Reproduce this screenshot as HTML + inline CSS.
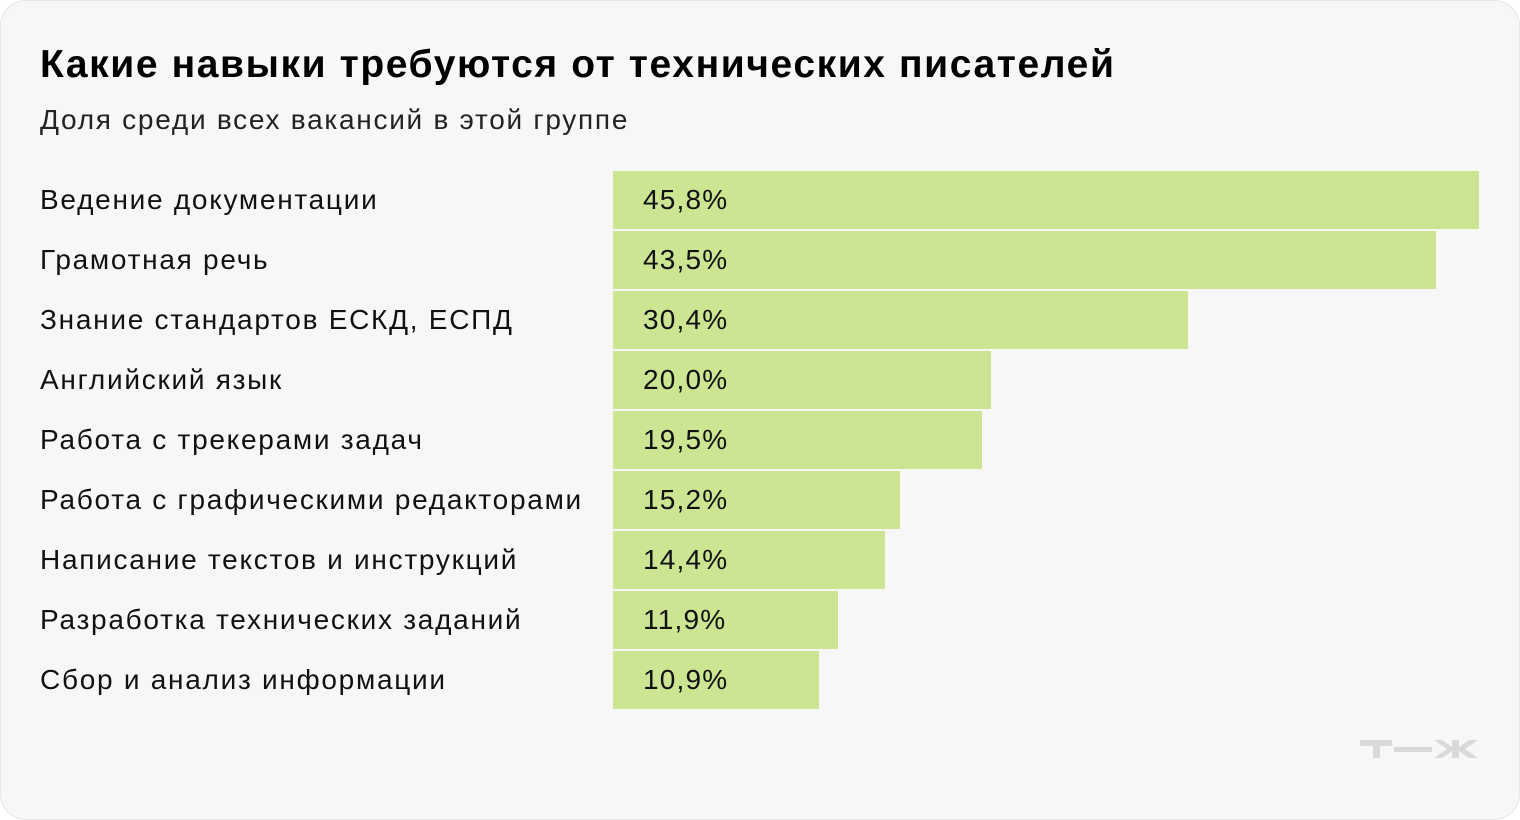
<!DOCTYPE html>
<html><head><meta charset="utf-8"><style>
body{margin:0;width:1520px;height:820px;background:#fff;font-family:"Liberation Sans","Noto Sans CJK SC",sans-serif;}
.card{position:absolute;left:0;top:0;width:1518px;height:818px;border:1px solid #e6e6e6;border-radius:26px;background:#f7f7f7;}
h1{position:absolute;left:40px;top:43px;margin:0;font-size:39px;font-weight:bold;color:#000;letter-spacing:1.6px;white-space:nowrap;}
.sub{position:absolute;left:40px;top:104px;font-size:28px;color:#222;letter-spacing:1.73px;white-space:nowrap;}
.lbl{position:absolute;left:40px;font-size:28px;color:#111;line-height:58px;letter-spacing:1.73px;white-space:nowrap;}
.bar{position:absolute;left:613px;height:58px;background:#cce592;}
.val{position:absolute;left:643px;font-size:28px;color:#111;line-height:58px;letter-spacing:1.2px;}
</style></head><body>
<div class="card"></div>
<h1>Какие навыки требуются от технических писателей</h1>
<div class="sub">Доля среди всех вакансий в этой группе</div>
<div id="chart"></div>
<svg style="position:absolute;left:1360px;top:738px" width="120" height="24">
<g fill="#d9d9d9"><rect x="0" y="2" width="32" height="6"/><rect x="13" y="2" width="7" height="18"/><rect x="34" y="9" width="38" height="5"/>
<polygon points="74,2 82,2 92,9 92,2 99,2 99,9 109,2 118,2 105,11 118,20 109,20 99,13 99,20 92,20 92,13 82,20 74,20 87,11"/></g></svg>
<script>
const categories=["Ведение документации","Грамотная речь","Знание стандартов ЕСКД, ЕСПД","Английский язык","Работа с трекерами задач","Работа с графическими редакторами","Написание текстов и инструкций","Разработка технических заданий","Сбор и анализ информации"];
const values=[45.8,43.5,30.4,20.0,19.5,15.2,14.4,11.9,10.9];
const valueLabels=["45,8%","43,5%","30,4%","20,0%","19,5%","15,2%","14,4%","11,9%","10,9%"];
const x=v=>v*866/45.8;
const y=i=>171+i*60;
const c=document.getElementById('chart');
categories.forEach((cat,i)=>{
 const l=document.createElement('div');l.className='lbl';l.style.top=y(i)+'px';l.textContent=cat;
 
 
 c.appendChild(l);
 const b=document.createElement('div');b.className='bar';b.style.top=y(i)+'px';b.style.width=x(values[i])+'px';
 
 
 c.appendChild(b);
 const v=document.createElement('div');v.className='val';v.style.top=y(i)+'px';v.textContent=valueLabels[i];
 
 
 c.appendChild(v);
});
</script>
</body></html>
